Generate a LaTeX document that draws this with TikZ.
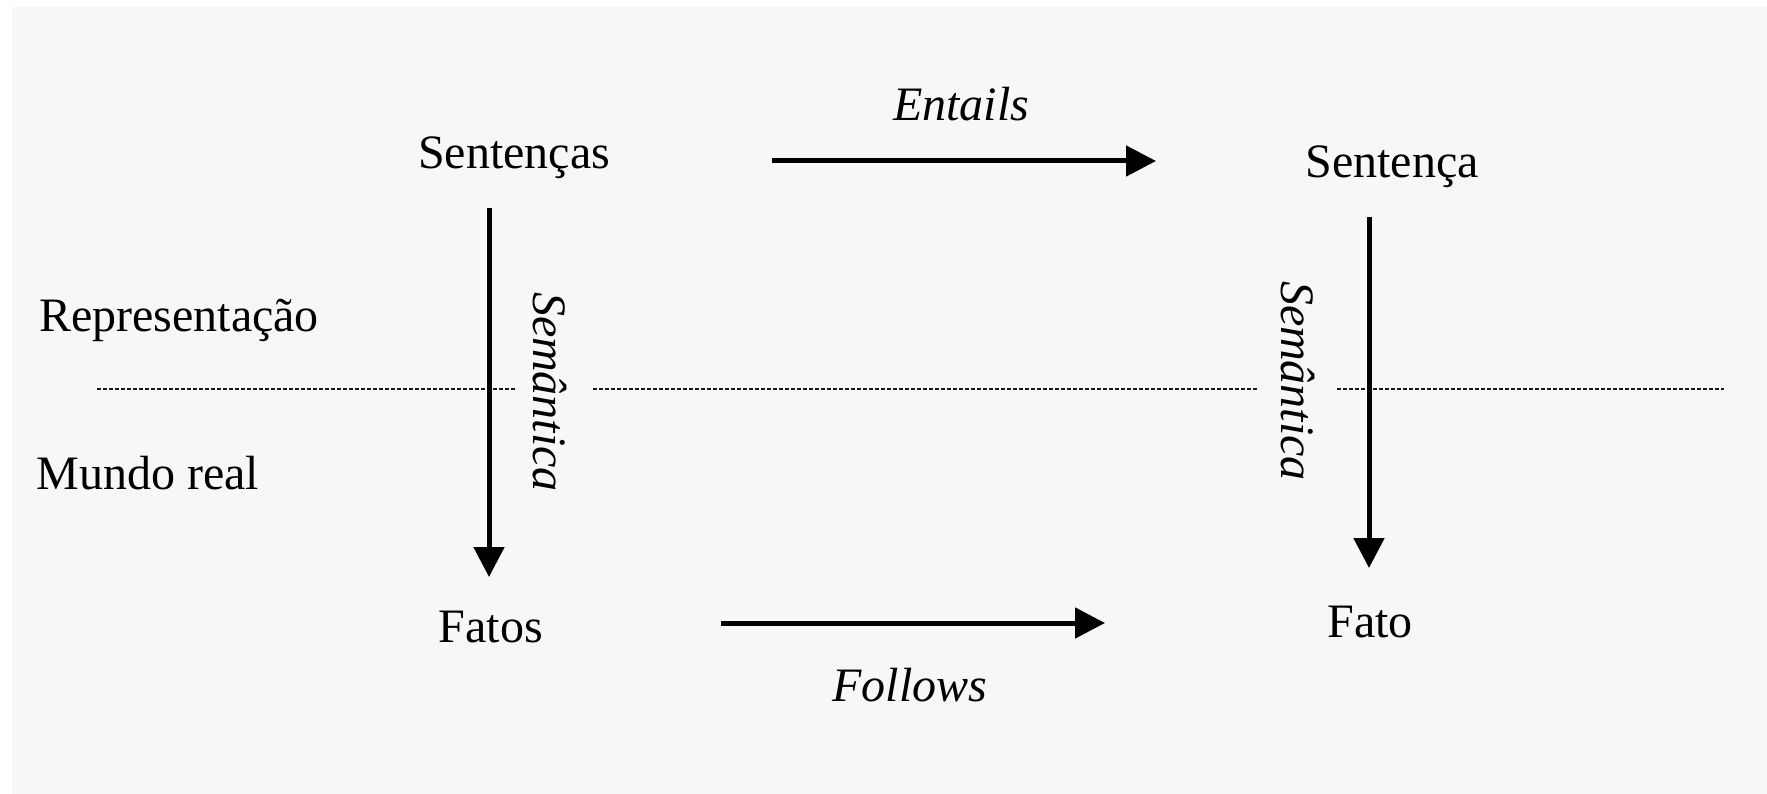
\documentclass[tikz,border=0pt]{standalone}
\usepackage{fontspec}
\setmainfont{Liberation Serif}
\usetikzlibrary{arrows.meta}
\definecolor{panel}{HTML}{F7F7F7}
\begin{document}
\begin{tikzpicture}[x=1pt,y=-1pt,
  lbl/.style={font=\fontsize{48}{56}\selectfont, inner sep=0pt},
  ilbl/.style={font=\fontsize{48}{56}\selectfont\itshape, inner sep=0pt},
  bigarrow/.style={line width=5pt, -{Triangle[length=30pt,width=30pt]}},
  sepline/.style={line width=1.4pt, dash pattern=on 4pt off 2pt, black!90}]
\useasboundingbox (0,0) rectangle (1767,794);
\fill[panel] (12,7) rectangle (1767,794);
% separator
\coordinate (d1) at (97,389);  \coordinate (d2) at (515,389);
\coordinate (d3) at (593,389); \coordinate (d4) at (1258,389);
\coordinate (d5) at (1337,389); \coordinate (d6) at (1724,389);
\draw[sepline] (d1) -- (d2);
\draw[sepline] (d3) -- (d4);
\draw[sepline] (d5) -- (d6);
% texts
\node[lbl] (sentencas) at (514,158) {Sentenças};
\node[lbl] (sentenca) at (1392,167) {Sentença};
\node[lbl] (fatos) at (491,627) {Fatos};
\node[lbl] (fato) at (1370,622) {Fato};
\node[lbl] (repr) at (179,320) {Representação};
\node[lbl] (mundo) at (148,473) {Mundo real};
\node[ilbl] (entails) at (961,104) {Entails};
\node[ilbl] (follows) at (910,685) {Follows};
\node[ilbl, rotate=-90] (semL) at (550,392) {Semântica};
\node[ilbl, rotate=-90] (semR) at (1298,381) {Semântica};
% arrows
\coordinate (a1) at (772,161);  \coordinate (a2) at (1156,161);
\coordinate (b1) at (721,623);  \coordinate (b2) at (1105,623);
\coordinate (c1) at (489,208);  \coordinate (c2) at (489,577);
\coordinate (e1) at (1369,217); \coordinate (e2) at (1369,568);
\draw[bigarrow] (a1) -- (a2);
\draw[bigarrow] (b1) -- (b2);
\draw[bigarrow] (c1) -- (c2);
\draw[bigarrow] (e1) -- (e2);
\end{tikzpicture}
\end{document}
